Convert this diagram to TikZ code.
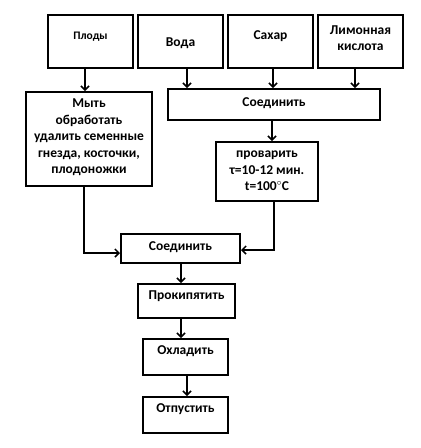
\documentclass[tikz,border=0pt]{standalone}
\usepackage{fontspec}
\setmainfont{Carlito}
\usetikzlibrary{arrows.meta}
\tikzset{
  box/.style={draw=black, line width=2pt, rectangle, inner sep=0pt},
  txt/.style={font=\bfseries\fontsize{13.5}{16.5}\selectfont, align=center, inner sep=0pt},
  conn/.style={line width=1.8pt, -{Straight Barb[length=4pt,width=8pt,line width=1.5pt]}},
}
\begin{document}
\begin{tikzpicture}[x=1pt,y=-1pt]
\useasboundingbox (0,0) rectangle (421,448);
% top row
\node[box, minimum width=85pt, minimum height=53pt] (plody) at (90.5,41.5) {};
\node[txt, font=\bfseries\fontsize{11.5}{14}\selectfont] at (90.5,37) {Плоды};
\node[box, minimum width=85pt, minimum height=53pt] (voda) at (180.5,41.5) {};
\node[txt] at (180.5,43) {Вода};
\node[box, minimum width=85pt, minimum height=53pt] (sahar) at (270.5,41.5) {};
\node[txt] at (270.5,36) {Сахар};
\node[box, minimum width=85pt, minimum height=53pt] (limon) at (360.5,41.5) {};
\node[txt] at (360.5,38) {Лимонная\\кислота};
% second row
\node[box, minimum width=126pt, minimum height=94pt] (myt) at (89,139) {};
\node[txt] at (89,137.5) {Мыть\\обработать\\удалить семенные\\гнезда, косточки,\\плодоножки};
\node[box, minimum width=212pt, minimum height=31pt] (soed1) at (274,104.5) {};
\node[txt] at (274,103) {Соединить};
\node[box, minimum width=102pt, minimum height=59pt] (prov) at (267,171.5) {};
\node[txt] at (267,171) {проварить\\τ=10-12 мин.\\t=100$^{\circ}$С};
% lower chain
\node[box, minimum width=119pt, minimum height=29pt] (soed2) at (180.5,248.5) {};
\node[txt] at (180.5,247) {Соединить};
\node[box, minimum width=97pt, minimum height=34pt] (prok) at (186.5,301) {};
\node[txt] at (186.5,296) {Прокипятить};
\node[box, minimum width=85pt, minimum height=36pt] (ohl) at (185.5,357) {};
\node[txt] at (185.5,351) {Охладить};
\node[box, minimum width=85pt, minimum height=36pt] (otp) at (185.5,415) {};
\node[txt] at (185.5,409) {Отпустить};
% connectors
\draw[conn] (plody.south -| 85,0) -- (myt.north -| 85,0);
\draw[conn] (voda.south -| 187,0) -- (soed1.north -| 187,0);
\draw[conn] (sahar.south -| 273,0) -- (soed1.north -| 273,0);
\draw[conn] (limon.south -| 355,0) -- (soed1.north -| 355,0);
\draw[conn] (soed1.south -| 272,0) -- (prov.north -| 272,0);
\draw[conn] (myt.south -| 84,0) -- (84,253) -- (soed2.west |- 0,253);
\draw[conn] (prov.south -| 274,0) -- (274,250) -- (soed2.east |- 0,250);
\draw[conn] (soed2.south -| 181,0) -- (prok.north -| 181,0);
\draw[conn] (prok.south -| 181,0) -- (ohl.north -| 181,0);
\draw[conn] (ohl.south -| 187,0) -- (otp.north -| 187,0);
\end{tikzpicture}
\end{document}
